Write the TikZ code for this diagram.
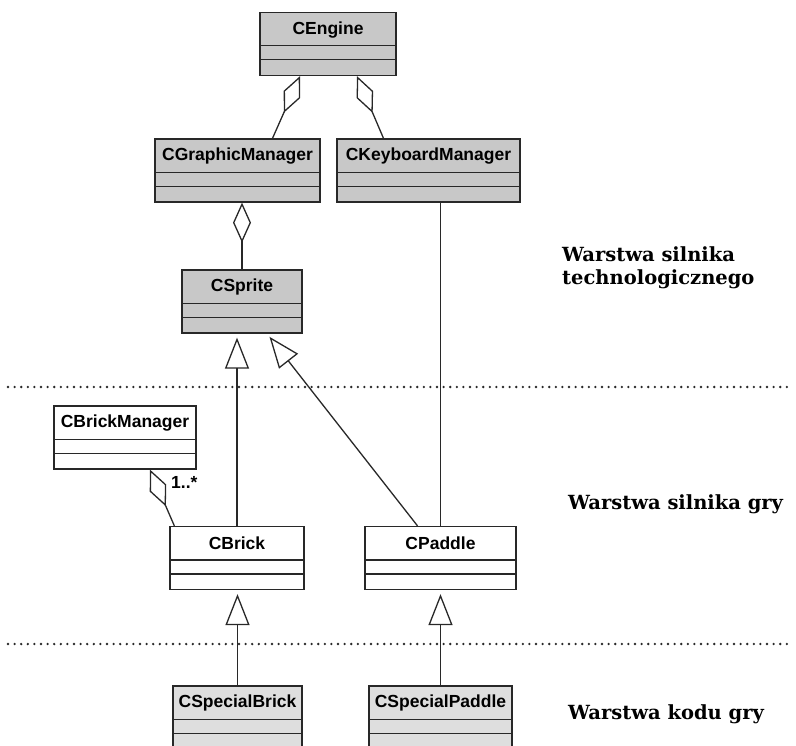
\documentclass[tikz,border=0pt]{standalone}
\usepackage{fontspec}
\newfontfamily\classfont{Liberation Sans}
\newfontfamily\layerfont{DejaVu Serif}
\usetikzlibrary{arrows.meta, positioning}
\definecolor{engine_gray}{RGB}{200,200,200}
\definecolor{game_gray}{RGB}{222,222,222}
\definecolor{line_gray}{RGB}{40,40,40}

\begin{document}
\begin{tikzpicture}[x=1pt, y=-1pt]
    \tikzstyle{classbox}=[draw=line_gray, line width=1.3pt, rectangle, minimum height=63pt, inner sep=0pt]
    \tikzstyle{classname}=[font=\classfont\bfseries\fontsize{17.5}{20}\selectfont, anchor=north, minimum height=35pt, inner sep=0pt]
    \tikzstyle{layertext}=[font=\layerfont\bfseries\fontsize{19.5}{23}\selectfont, align=left, inner sep=0pt]
    \tikzstyle{aggr}=[draw=line_gray, line width=1.3pt, {Diamond[open, length=40pt, width=18pt]}-]
    \tikzstyle{gen}=[draw=line_gray, line width=1.3pt, -{Triangle[open, length=31pt, width=24pt]}, shorten >=4pt]
    \tikzstyle{layersep}=[draw=line_gray, line width=2.6pt, line cap=round, dash pattern=on 0pt off 6.6pt]

    \useasboundingbox (0, 0) rectangle (796, 746);
    \clip (0, 0) rectangle (796, 746);
    \fill[white] (0, 0) rectangle (796, 746);

    % Technology engine layer
    \node[classbox, fill=engine_gray, minimum width=136pt] (engine) at (328, 44) {};
    \node[classbox, fill=engine_gray, minimum width=165pt] (gfx_mgr) at (237.5, 170.5) {};
    \node[classbox, fill=engine_gray, minimum width=183pt] (kbd_mgr) at (428.5, 170.5) {};
    \node[classbox, fill=engine_gray, minimum width=120pt] (sprite) at (242, 301.5) {};

    % Game engine layer
    \node[classbox, fill=white, minimum width=142pt] (brick_mgr) at (125, 437.5) {};
    \node[classbox, fill=white, minimum width=134pt] (brick) at (237, 558) {};
    \node[classbox, fill=white, minimum width=151pt] (paddle) at (440.5, 558) {};

    % Game code layer
    \node[classbox, fill=game_gray, minimum width=129pt] (sp_brick) at (237.5, 717.5) {};
    \node[classbox, fill=game_gray, minimum width=143pt] (sp_paddle) at (440.5, 717.5) {};

    % Compartments
    \foreach \cls/\title in {engine/CEngine, gfx_mgr/CGraphicManager, kbd_mgr/CKeyboardManager,
                             sprite/CSprite, brick_mgr/CBrickManager, brick/CBrick, paddle/CPaddle,
                             sp_brick/CSpecialBrick, sp_paddle/CSpecialPaddle} {
        \node[classname] (\cls_lbl) at (\cls.north) {\title};
        \draw[draw=line_gray, line width=1.3pt] ([yshift=-34pt]\cls.north west) -- ([yshift=-34pt]\cls.north east);
        \draw[draw=line_gray, line width=1.3pt] ([yshift=-48pt]\cls.north west) -- ([yshift=-48pt]\cls.north east);
    }

    % Aggregations
    \draw[aggr] ([xshift=-28pt]engine.south) -- ([xshift=35pt]gfx_mgr.north);
    \draw[aggr] ([xshift=29pt]engine.south) -- ([xshift=-45pt]kbd_mgr.north);
    \draw[aggr] (sprite.north |- gfx_mgr.south) -- (sprite.north);
    \draw[aggr] ([xshift=25pt]brick_mgr.south) -- ([xshift=5pt]brick.north west);
    \node[font=\classfont\bfseries\fontsize{17.5}{20}\selectfont, anchor=west, inner sep=0pt] (mult_lbl) at (171, 482) {1..*};

    % Associations
    \draw[draw=line_gray, line width=1.3pt] (paddle.north |- kbd_mgr.south) -- (paddle.north);

    % Generalizations
    \draw[gen] (brick.north) -- (brick.north |- sprite.south);
    \draw[gen] ([xshift=-23pt]paddle.north) -- ([xshift=25pt]sprite.south);
    \draw[gen] (sp_brick.north) -- (sp_brick.north |- brick.south);
    \draw[gen] (sp_paddle.north) -- (sp_paddle.north |- paddle.south);

    % Layer separators
    \coordinate (sep1_l) at (8, 387);
    \coordinate (sep1_r) at (790, 387);
    \coordinate (sep2_l) at (8, 644);
    \coordinate (sep2_r) at (790, 644);
    \draw[layersep] (sep1_l) -- (sep1_r);
    \draw[layersep] (sep2_l) -- (sep2_r);

    % Layer names
    \node[layertext, anchor=north west] (tech_layer) at (562, 246) {Warstwa silnika\\technologicznego};
    \node[layertext, anchor=base west] (engine_layer) at (568, 509) {Warstwa silnika gry};
    \node[layertext, anchor=base west] (code_layer) at (568, 719) {Warstwa kodu gry};
\end{tikzpicture}
\end{document}
